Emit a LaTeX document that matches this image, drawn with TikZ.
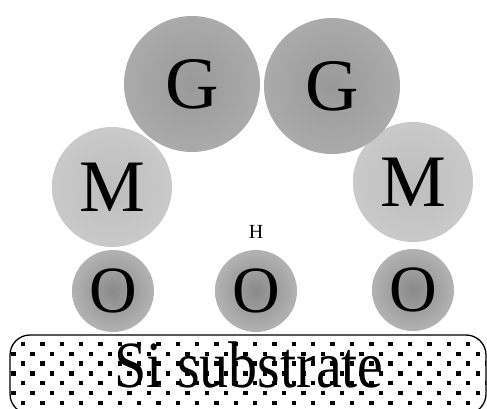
\documentclass[tikz,border=0pt]{standalone}
\usepackage{fontspec}
\setmainfont{Liberation Serif}
\begin{document}
\begin{tikzpicture}[x=1pt,y=-1pt,
  atom/.style={circle, inner sep=0pt, font=\fontsize{74}{74}\selectfont},
  gatom/.style={atom, minimum size=136pt, inner color=black!40, outer color=black!33},
  matom/.style={atom, minimum size=120pt, inner color=black!26, outer color=black!21},
  oatom/.style={atom, minimum size=82pt, inner color=black!46, outer color=black!30, font=\fontsize{66}{66}\selectfont},
  subst/.style={draw=black, line width=1.3pt, rounded corners=20pt},
  dot/.style={fill=black}
]
\useasboundingbox (0,0) rectangle (487,409);
% substrate
\begin{scope}
\clip[rounded corners=20pt] (10,335) rectangle (486,414);
\foreach \k in {0,...,7}{
  \pgfmathsetmacro{\yy}{344+9.8*\k}
  \pgfmathsetmacro{\xs}{mod(\k,2)==0 ? 23 : 13.3}
  \foreach \i in {0,...,24}{
    \fill[dot] ({\xs+19.35*\i-2.2},{\yy-2.2}) rectangle ++(4.4,4.4);
  }
}
\end{scope}
\draw[subst] (10,335) rectangle (486,414);
\node[font=\fontsize{66}{66}\selectfont, inner sep=0pt, anchor=base] (si) at (249,387) {\scalebox{0.88}[1]{Si substrate}};
% atoms
\node[matom] (m1) at (112,187) {M};
\node[matom] (m2) at (413,182) {M};
\node[gatom] (g1) at (192,84) {G};
\node[gatom] (g2) at (332,86) {G};
\node[oatom] (o1) at (113,291) {O};
\node[oatom] (o2) at (256,291) {O};
\node[oatom] (o3) at (413,290) {O};
\node[font=\fontsize{20}{20}\selectfont, inner sep=0pt] (h) at (256,232) {H};
\end{tikzpicture}
\end{document}
